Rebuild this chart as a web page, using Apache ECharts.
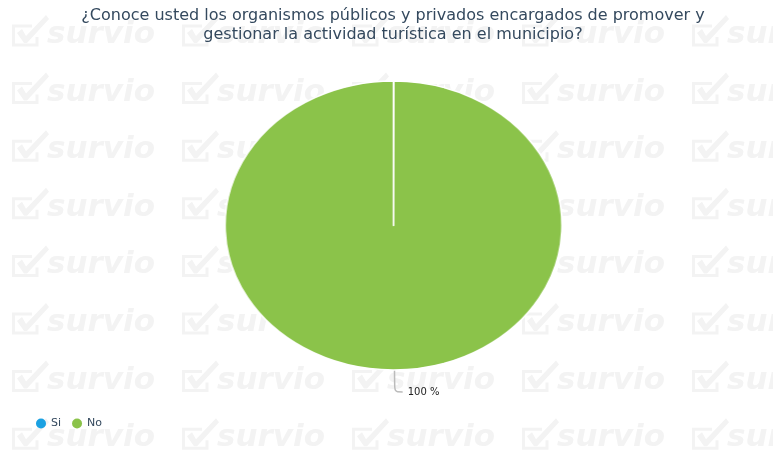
<!DOCTYPE html>
<html>
<head>
<meta charset="utf-8">
<script src="https://cdn.jsdelivr.net/npm/echarts@6/dist/echarts.min.js"></script>
<style>
html,body{margin:0;padding:0;background:#fff;}
#wrap{position:relative;width:773px;height:454px;overflow:hidden;}
#base,#pie{position:absolute;left:0;top:0;width:773px;height:454px;}
#pie{pointer-events:none;transform:scaleX(1.166);transform-origin:393.5px 225.5px;}
</style>
</head>
<body>
<div id="wrap"><div id="base"></div><div id="pie"></div></div>
<script>
var titleText = '¿Conoce usted los organismos públicos y privados encargados de promover y\ngestionar la actividad turística en el municipio?';
var categories = ['Si', 'No'];
var values = [0, 100];
var colors = ['#1ba1e2', '#8bc34a'];

var pieData = categories.map(function (c, i) {
  return { name: c, value: values[i], itemStyle: { color: colors[i] }, label: { show: values[i] > 0 }, labelLine: { show: values[i] > 0 } };
});
var pieDataB = categories.map(function (c, i) {
  return { name: c, value: values[i], itemStyle: { color: colors[i] }, label: { show: false }, labelLine: { show: false } };
});

// watermark
var wmColor = '#f3f3f3';
var wm = [];
for (var r = 0; r < 8; r++) {
  for (var c = 0; c < 5; c++) {
    var x = 12 + c * 170, y = 35 + r * 57.6;
    wm.push({ type: 'polyline', x: x, y: y, z: -10, silent: true,
      shape: { points: [[20, -9], [1.5, -9], [1.5, 10], [25, 10], [25, 2]] },
      style: { stroke: wmColor, lineWidth: 3, fill: null } });
    wm.push({ type: 'polygon', x: x, y: y, z: -10, silent: true,
      shape: { points: [[5, -2], [10, -6], [14, 1], [34, -20], [37, -16], [15, 8], [12, 8]] },
      style: { fill: wmColor } });
    wm.push({ type: 'text', x: x + 35, y: y, z: -10, silent: true,
      style: { text: 'survio', fontSize: 31, fontWeight: 'bold', fontStyle: 'italic', fontFamily: 'DejaVu Sans', fill: wmColor, verticalAlign: 'middle' } });
  }
}

var base = echarts.init(document.getElementById('base'));
base.setOption({
  animation: false,
  backgroundColor: '#fff',
  graphic: wm,
  title: {
    text: titleText, left: 388, textAlign: 'center', top: 1,
    textStyle: { fontFamily: 'DejaVu Sans', fontSize: 16, fontWeight: 'normal', color: '#34495e', lineHeight: 19 }
  },
  legend: {
    data: categories, left: 31, top: 413, icon: 'circle', itemWidth: 10, itemHeight: 10, itemGap: 11,
    textStyle: { fontFamily: 'DejaVu Sans', fontSize: 11, color: '#34495e' }
  },
  series: [{
    type: 'pie', center: [393.5, 225.5], radius: 144.5, startAngle: 90.4, clockwise: true,
    avoidLabelOverlap: false,
    data: pieData,
    itemStyle: { borderColor: '#fff', borderWidth: 0 },
    label: { formatter: '{d} %', fontFamily: 'DejaVu Sans', fontSize: 10, color: '#222', distanceToLabelLine: 5 },
    labelLine: { length: 22, length2: 8, smooth: true, lineStyle: { color: '#bbb', width: 1.5 } }
  }]
});

var pie = echarts.init(document.getElementById('pie'), null, { renderer: 'svg' });
pie.setOption({
  animation: false,
  series: [{
    type: 'pie', center: [393.5, 225.5], radius: 144.5, startAngle: 90, clockwise: true,
    minAngle: 0.1,
    data: pieDataB,
    itemStyle: { borderColor: '#fff', borderWidth: 1.5 },
    label: { show: false },
    labelLine: { show: false },
    emphasis: { disabled: true }
  }]
});
</script>
</body>
</html>
